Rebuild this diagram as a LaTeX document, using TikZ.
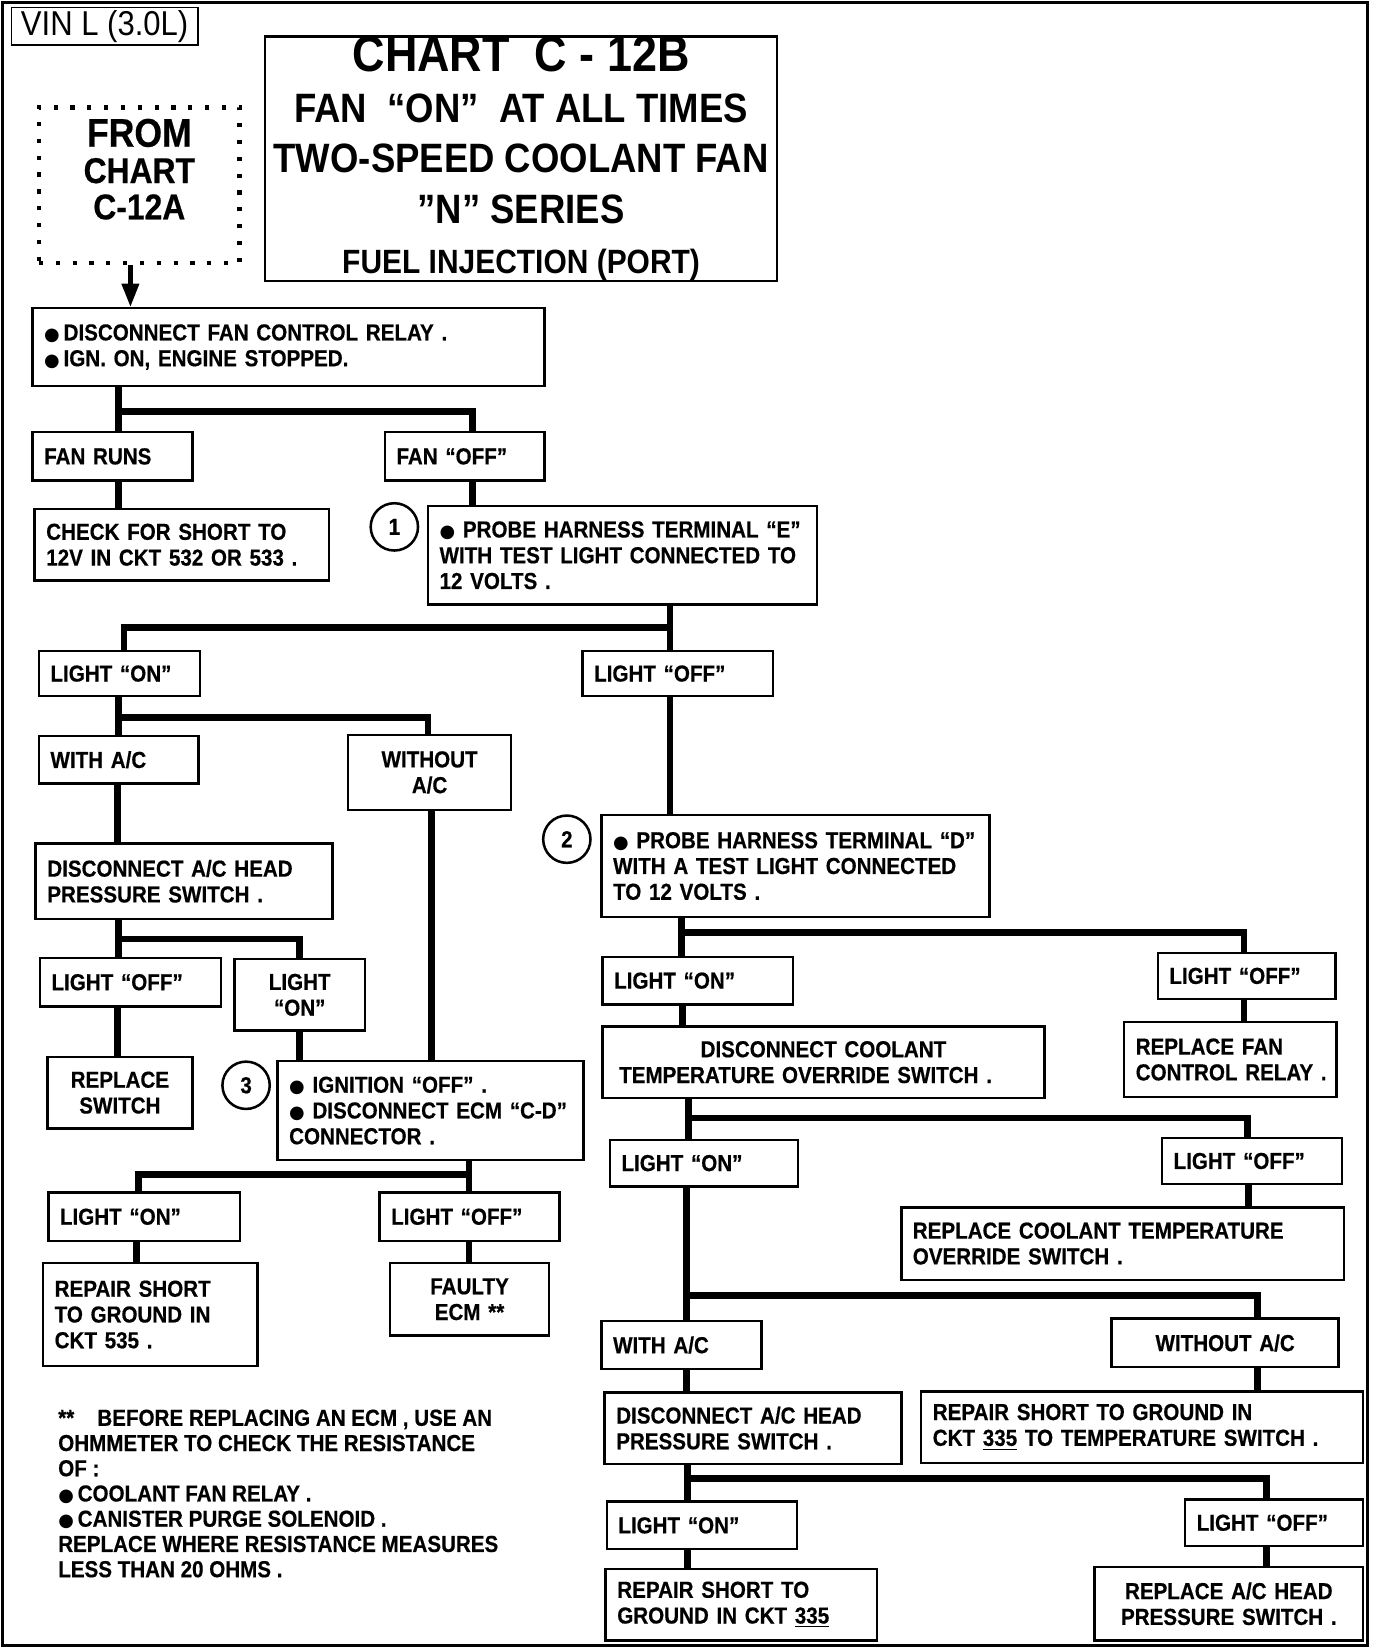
\documentclass[tikz,border=0pt]{standalone}
\usepackage{fontspec}
\usetikzlibrary{arrows.meta}
\newfontfamily\bodyfont{Liberation Sans}[FakeStretch=0.89,FakeBold=0.5]
\newfontfamily\titlefont{Liberation Sans}[FakeStretch=0.89]
\newfontfamily\vinfont{Liberation Sans}[FakeStretch=0.9]
\newfontfamily\symfont{DejaVu Sans}
\newcommand\bul{{\symfont\fontsize{8.5}{8.5}\selectfont ●}}
\newcommand\Ltxt[1]{\mbox{#1}}
\newcommand\mybox[7][]{%
  \pgfmathsetmacro\bxw{(#5-#3)*0.5}%
  \pgfmathsetmacro\bxh{(#6-#4)*0.5}%
  \pgfmathsetmacro\bxt{(#5-#3)*0.5-11}%
  \node[box,minimum width=\bxw pt,minimum height=\bxh pt,text width=\bxt pt,#1] (#2) at ({(#3+#5)/2},{(#4+#6)/2}) {#7};}
\begin{document}
\begin{tikzpicture}[x=0.5pt,y=-0.5pt,
  box/.style={draw, line width=1.2pt, inner xsep=5.5pt, inner ysep=0pt, align=left,
    font=\bodyfont\bfseries\fontsize{11}{12.25}\selectfont},
  cbox/.style={align=center},
  conn/.style={line width=3.2pt, line join=miter},
  circ/.style={draw, circle, line width=1.2pt, minimum size=22.5pt, inner sep=0pt,
    font=\bodyfont\bfseries\fontsize{11}{12}\selectfont},
  vin/.style={draw, line width=0.8pt, inner sep=0pt, minimum width=88.5pt, minimum height=18pt,
    font=\vinfont\fontsize{16.4}{17}\selectfont},
  titlebox/.style={draw, line width=1.2pt, inner sep=0pt, align=center,
    font=\titlefont\bfseries\fontsize{19.5}{24}\selectfont},
  dotbox/.style={draw, line width=2.2pt, dash pattern=on 2pt off 6pt, inner sep=0pt, align=center,
    font=\bodyfont\bfseries\fontsize{17}{17.25}\selectfont},
  arr/.style={line width=2pt, -{Triangle[length=11pt,width=8pt]}},
  foot/.style={inner sep=0pt, align=left, font=\bodyfont\bfseries\fontsize{11}{12}\selectfont}
]
\useasboundingbox (0,0) rectangle (1324,1569);
\draw[line width=1.6pt] (2.5,2.5) rectangle (1300.5,1565);

\node[vin] (vin) at (99.5,25) {VIN L (3.0L)};
\node[titlebox, minimum width=243.5pt, minimum height=115pt] (title) at (495.5,151)
  {{\fontsize{24}{24}\selectfont CHART\ \ C - 12B}\\
   FAN\ \ “ON”\ \ AT ALL TIMES\\
   TWO-SPEED COOLANT FAN\\
   ”N” SERIES\\
   {\fontsize{16}{24}\selectfont FUEL INJECTION (PORT)}};
\node[dotbox, minimum width=95.5pt, minimum height=74pt] (from) at (132.5,176)
  {{\fontsize{19}{17.25}\selectfont FROM}\\CHART\\C-12A\\[-2pt]\mbox{}};

% left column
\mybox{A}{31}{293}{518}{367}{\Ltxt{\bul\,DISCONNECT FAN CONTROL RELAY .}\\\Ltxt{\bul\,IGN. ON, ENGINE STOPPED.}}
\mybox{fanruns}{31}{411}{183}{457}{\Ltxt{FAN RUNS}}
\mybox{fanoff}{366}{411}{518}{457}{\Ltxt{FAN “OFF”}}
\mybox{check}{33}{484}{313}{552}{\Ltxt{CHECK FOR SHORT TO}\\\Ltxt{12V IN CKT 532 OR 533 .}}
\mybox{probeE}{407}{481}{777}{575}{\Ltxt{\bul\ PROBE HARNESS TERMINAL “E”}\\\Ltxt{WITH TEST LIGHT CONNECTED TO}\\\Ltxt{12 VOLTS .}}
\node[circ] (c1) at (375,501) {1};
\mybox{lonA}{37}{619}{190}{662}{\Ltxt{LIGHT “ON”}}
\mybox{loffA}{554}{619}{735}{662}{\Ltxt{LIGHT “OFF”}}
\mybox{withA}{37}{700}{189}{745}{\Ltxt{WITH A/C}}
\mybox[cbox]{withoutA}{331}{699}{486}{770}{\Ltxt{WITHOUT}\\\Ltxt{A/C}}
\mybox{discA}{34}{802}{316}{874}{\Ltxt{DISCONNECT A/C HEAD}\\\Ltxt{PRESSURE SWITCH .}}
\mybox{loffB}{38}{911}{210}{957}{\Ltxt{LIGHT “OFF”}}
\mybox[cbox]{lonB}{223}{912}{347}{980}{\Ltxt{LIGHT}\\\Ltxt{“ON”}}
\mybox[cbox]{repsw}{45}{1005}{183}{1073}{\Ltxt{REPLACE}\\\Ltxt{SWITCH}}
\mybox{ign}{264}{1009}{555}{1103}{\Ltxt{\bul\ IGNITION “OFF” .}\\\Ltxt{\bul\ DISCONNECT ECM “C-D”}\\\Ltxt{CONNECTOR .}}
\node[circ] (c3) at (234,1032) {3};
\mybox{lonC}{46}{1134}{228}{1180}{\Ltxt{LIGHT “ON”}}
\mybox{loffC}{361}{1134}{532}{1180}{\Ltxt{LIGHT “OFF”}}
\mybox{repA}{41}{1201}{245}{1299}{\Ltxt{REPAIR SHORT}\\\Ltxt{TO GROUND IN}\\\Ltxt{CKT 535 .}}
\mybox[cbox]{faulty}{371}{1201}{522}{1270}{\Ltxt{FAULTY}\\\Ltxt{ECM **}}
\node[foot, anchor=north west] (note) at (55,1340)
  {\Ltxt{**\hspace{11pt}BEFORE REPLACING AN ECM , USE AN}\\
   \Ltxt{OHMMETER TO CHECK THE RESISTANCE}\\
   \Ltxt{OF :}\\
   \Ltxt{\bul\,COOLANT FAN RELAY .}\\
   \Ltxt{\bul\,CANISTER PURGE SOLENOID .}\\
   \Ltxt{REPLACE WHERE RESISTANCE MEASURES}\\
   \Ltxt{LESS THAN 20 OHMS .}};

% right column
\mybox{probeD}{572}{775}{941}{872}{\Ltxt{\bul\ PROBE HARNESS TERMINAL “D”}\\\Ltxt{WITH A TEST LIGHT CONNECTED}\\\Ltxt{TO 12 VOLTS .}}
\node[circ] (c2) at (539,798) {2};
\mybox{lonD}{573}{910}{754}{955}{\Ltxt{LIGHT “ON”}}
\mybox{loffD}{1101}{906}{1270}{950}{\Ltxt{LIGHT “OFF”}}
\mybox[cbox]{discC}{573}{976}{993}{1044}{\Ltxt{DISCONNECT COOLANT}\\\Ltxt{TEMPERATURE OVERRIDE SWITCH .\hspace*{17pt}}}
\mybox{repfan}{1069}{972}{1271}{1043}{\Ltxt{REPLACE FAN}\\\Ltxt{CONTROL RELAY .}}
\mybox{lonE}{580}{1084}{759}{1128}{\Ltxt{LIGHT “ON”}}
\mybox{loffE}{1105}{1082}{1276}{1126}{\Ltxt{LIGHT “OFF”}}
\mybox{repCT}{857}{1148}{1278}{1217}{\Ltxt{REPLACE COOLANT TEMPERATURE}\\\Ltxt{OVERRIDE SWITCH .}}
\mybox{withB}{572}{1256}{724}{1302}{\Ltxt{WITH A/C}}
\mybox[cbox]{withoutB}{1057}{1254}{1273}{1300}{\Ltxt{WITHOUT A/C}}
\mybox{discB}{575}{1324}{857}{1392}{\Ltxt{DISCONNECT A/C HEAD}\\\Ltxt{PRESSURE SWITCH .}}
\mybox{repB}{876}{1323}{1296}{1391}{\Ltxt{REPAIR SHORT TO GROUND IN}\\\Ltxt{CKT \underline{335} TO TEMPERATURE SWITCH .}}
\mybox{lonF}{577}{1428}{758}{1473}{\Ltxt{LIGHT “ON”}}
\mybox{loffF}{1127}{1426}{1296}{1470}{\Ltxt{LIGHT “OFF”}}
\mybox{repC}{576}{1492}{834}{1560}{\Ltxt{REPAIR SHORT TO}\\\Ltxt{GROUND IN CKT \underline{335}}}
\mybox[cbox]{repAC}{1041}{1490}{1296}{1560}{\Ltxt{REPLACE A/C HEAD}\\\Ltxt{PRESSURE SWITCH .}}

% connectors
\draw[arr] (from.south -| 124,0) -- (A.north -| 124,0);
\draw[conn] (A.south -| 113,0) -- (fanruns.north -| 113,0);
\draw[conn] (A.south -| 113,0) -- (113,391) -| (fanoff.north -| 449,0);
\draw[conn] (fanruns.south -| 113,0) -- (check.north -| 113,0);
\draw[conn] (fanoff.south -| 449,0) -- (probeE.north -| 449,0);
\draw[conn] (probeE.south -| 637,0) -- (loffA.north -| 637,0);
\draw[conn] (probeE.south -| 637,0) -- (637,597) -| (lonA.north -| 118,0);
\draw[conn] (lonA.south -| 113,0) -- (withA.north -| 113,0);
\draw[conn] (lonA.south -| 113,0) -- (113,682) -| (withoutA.north -| 407,0);
\draw[conn] (withA.south -| 112,0) -- (discA.north -| 112,0);
\draw[conn] (withoutA.south -| 410,0) -- (ign.north -| 410,0);
\draw[conn] (discA.south -| 113,0) -- (loffB.north -| 113,0);
\draw[conn] (discA.south -| 113,0) -- (113,893) -| (lonB.north -| 285,0);
\draw[conn] (loffB.south -| 112,0) -- (repsw.north -| 112,0);
\draw[conn] (lonB.south -| 285,0) -- (ign.north -| 285,0);
\draw[conn] (ign.south -| 446,0) -- (loffC.north -| 446,0);
\draw[conn] (ign.south -| 446,0) -- (446,1117) -| (lonC.north -| 132,0);
\draw[conn] (lonC.south -| 130,0) -- (repA.north -| 130,0);
\draw[conn] (loffC.south -| 446,0) -- (faulty.north -| 446,0);

\draw[conn] (loffA.south -| 637,0) -- (probeD.north -| 637,0);
\draw[conn] (probeD.south -| 648,0) -- (lonD.north -| 648,0);
\draw[conn] (probeD.south -| 648,0) -- (648,887) -| (loffD.north -| 1183,0);
\draw[conn] (lonD.south -| 649,0) -- (discC.north -| 649,0);
\draw[conn] (loffD.south -| 1183,0) -- (repfan.north -| 1183,0);
\draw[conn] (discC.south -| 655,0) -- (lonE.north -| 655,0);
\draw[conn] (discC.south -| 655,0) -- (655,1063) -| (loffE.north -| 1186,0);
\draw[conn] (loffE.south -| 1187,0) -- (repCT.north -| 1187,0);
\draw[conn] (lonE.south -| 653,0) -- (withB.north -| 653,0);
\draw[conn] (lonE.south -| 653,0) -- (653,1232) -| (withoutB.north -| 1196,0);
\draw[conn] (withB.south -| 653,0) -- (discB.north -| 653,0);
\draw[conn] (withoutB.south -| 1196,0) -- (repB.north -| 1196,0);
\draw[conn] (discB.south -| 654,0) -- (lonF.north -| 654,0);
\draw[conn] (discB.south -| 654,0) -- (654,1406) -| (loffF.north -| 1204,0);
\draw[conn] (lonF.south -| 654,0) -- (repC.north -| 654,0);
\draw[conn] (loffF.south -| 1204,0) -- (repAC.north -| 1204,0);
\end{tikzpicture}
\end{document}
